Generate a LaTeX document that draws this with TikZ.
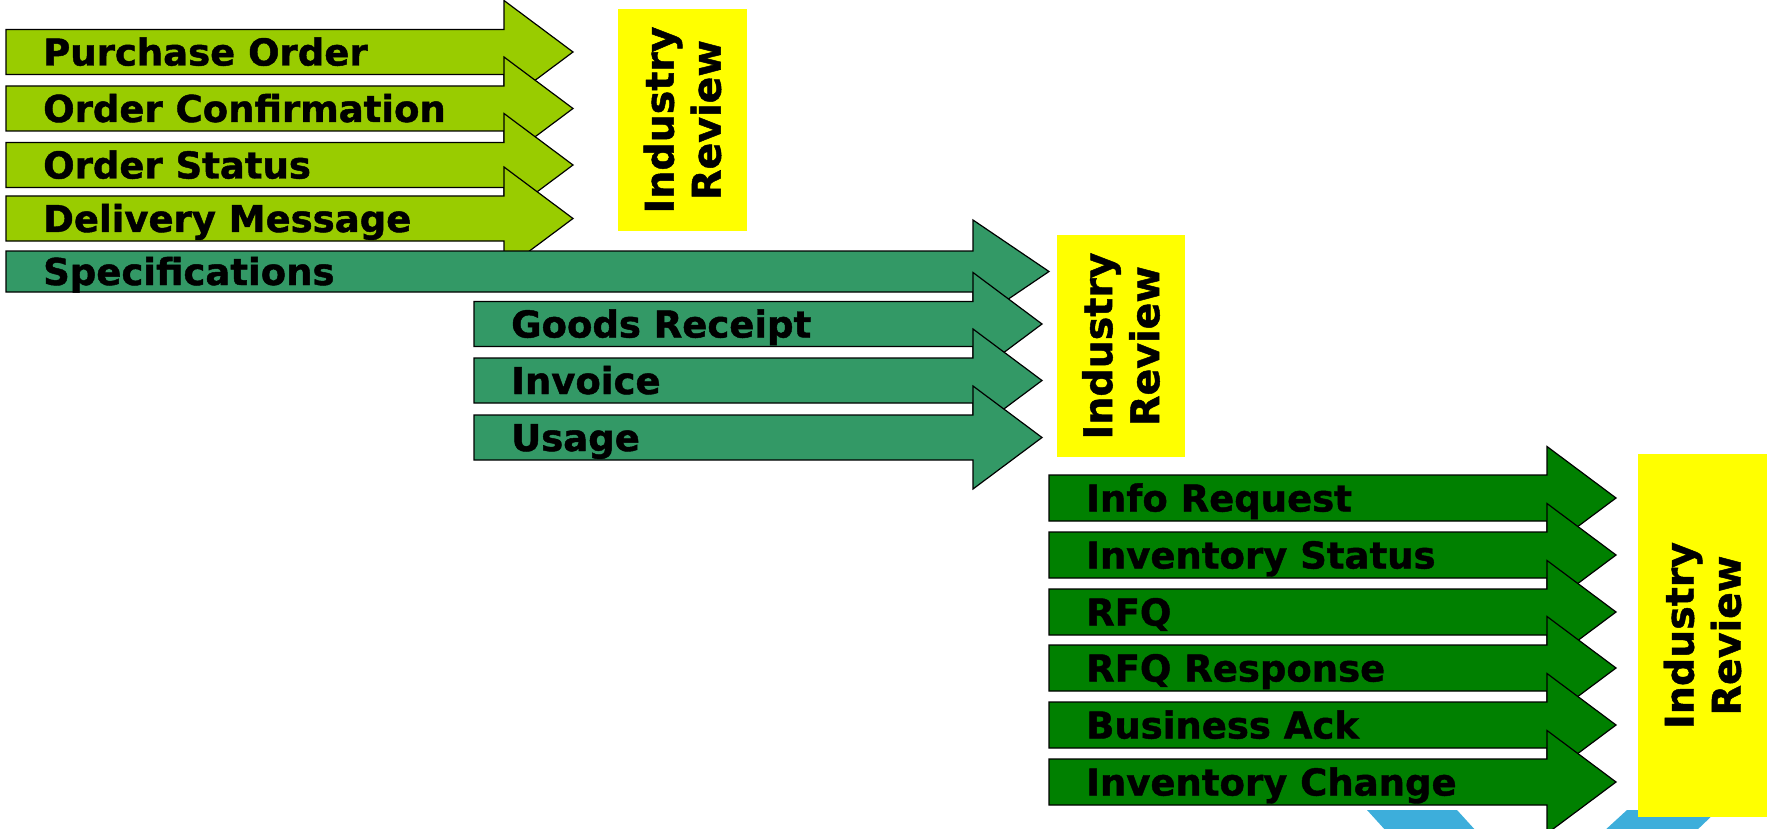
\documentclass[tikz,border=0pt]{standalone}
\usepackage{fontspec}
\setmainfont{DejaVu Sans}[BoldFeatures={FakeBold=1.2}]
\definecolor{lgreen}{HTML}{99CC00}
\definecolor{tgreen}{HTML}{339966}
\definecolor{dgreen}{HTML}{008000}
\definecolor{ylw}{HTML}{FFFF00}
\definecolor{lblue}{HTML}{3DAEDB}
\tikzset{
  arrowshape/.style={draw=black, line width=1.2pt, line join=miter},
  lbl/.style={anchor=base west, inner sep=0pt, font=\fontsize{37}{44}\selectfont\bfseries, text=black},
  review/.style={fill=ylw, rotate=90, inner sep=0pt, align=center, text=black,
    font=\fontsize{39.5}{47}\selectfont\bfseries},
}
% name, colour, x0, head base, tip, y centre, shaft half height, text
\newcommand{\msgarrow}[8]{%
  \filldraw[arrowshape, fill=#2] (#3,#6-#7) -- (#4,#6-#7) -- (#4,#6-51.5) -- (#5,#6)
    -- (#4,#6+51.5) -- (#4,#6+#7) -- (#3,#6+#7) -- cycle;
  \node[lbl] (#1) at (#3+37,#6+13.5) {#8};
}
\begin{document}
\begin{tikzpicture}[x=1pt,y=-1pt]
\useasboundingbox (0,0) rectangle (1772,829);
% background logo fragments
\begin{scope}
\clip (0,0) rectangle (1772,829);
\fill[lblue] (1367,810) -- (1457,810) -- (1477,832) -- (1387,832) -- cycle;
\fill[lblue] (1627,810) -- (1718,810) -- (1695,832) -- (1603,832) -- cycle;
\end{scope}
% group 1
\msgarrow{po}{lgreen}{6}{504}{573}{52}{22.5}{Purchase Order}
\msgarrow{oc}{lgreen}{6}{504}{573}{108.5}{22.5}{Order Confirmation}
\msgarrow{os}{lgreen}{6}{504}{573}{165}{22.5}{Order Status}
\msgarrow{dm}{lgreen}{6}{504}{573}{218.5}{22.5}{Delivery Message}
\msgarrow{sp}{tgreen}{6}{973}{1049}{271.5}{20.5}{Specifications}
% group 2
\msgarrow{gr}{tgreen}{474}{973}{1042}{324}{22.5}{Goods Receipt}
\msgarrow{inv}{tgreen}{474}{973}{1042}{380.5}{22.5}{Invoice}
\msgarrow{us}{tgreen}{474}{973}{1042}{437.5}{22.5}{Usage}
% group 3
\msgarrow{ir}{dgreen}{1049}{1547}{1616}{498}{23}{Info Request}
\msgarrow{is}{dgreen}{1049}{1547}{1616}{555}{23}{Inventory Status}
\msgarrow{rfq}{dgreen}{1049}{1547}{1616}{612}{23}{RFQ}
\msgarrow{rfqr}{dgreen}{1049}{1547}{1616}{668}{23}{RFQ Response}
\msgarrow{ba}{dgreen}{1049}{1547}{1616}{725}{23}{Business Ack}
\msgarrow{ic}{dgreen}{1049}{1547}{1616}{782}{23}{Inventory Change}
% review boxes
\node[review, minimum width=222pt, minimum height=129pt] (rev1) at (682.5,120) {Industry\\Review};
\node[review, minimum width=222pt, minimum height=128pt] (rev2) at (1121,346) {Industry\\Review};
\node[review, minimum width=363pt, minimum height=129pt] (rev3) at (1702.5,635.5) {Industry\\Review};
\end{tikzpicture}
\end{document}
